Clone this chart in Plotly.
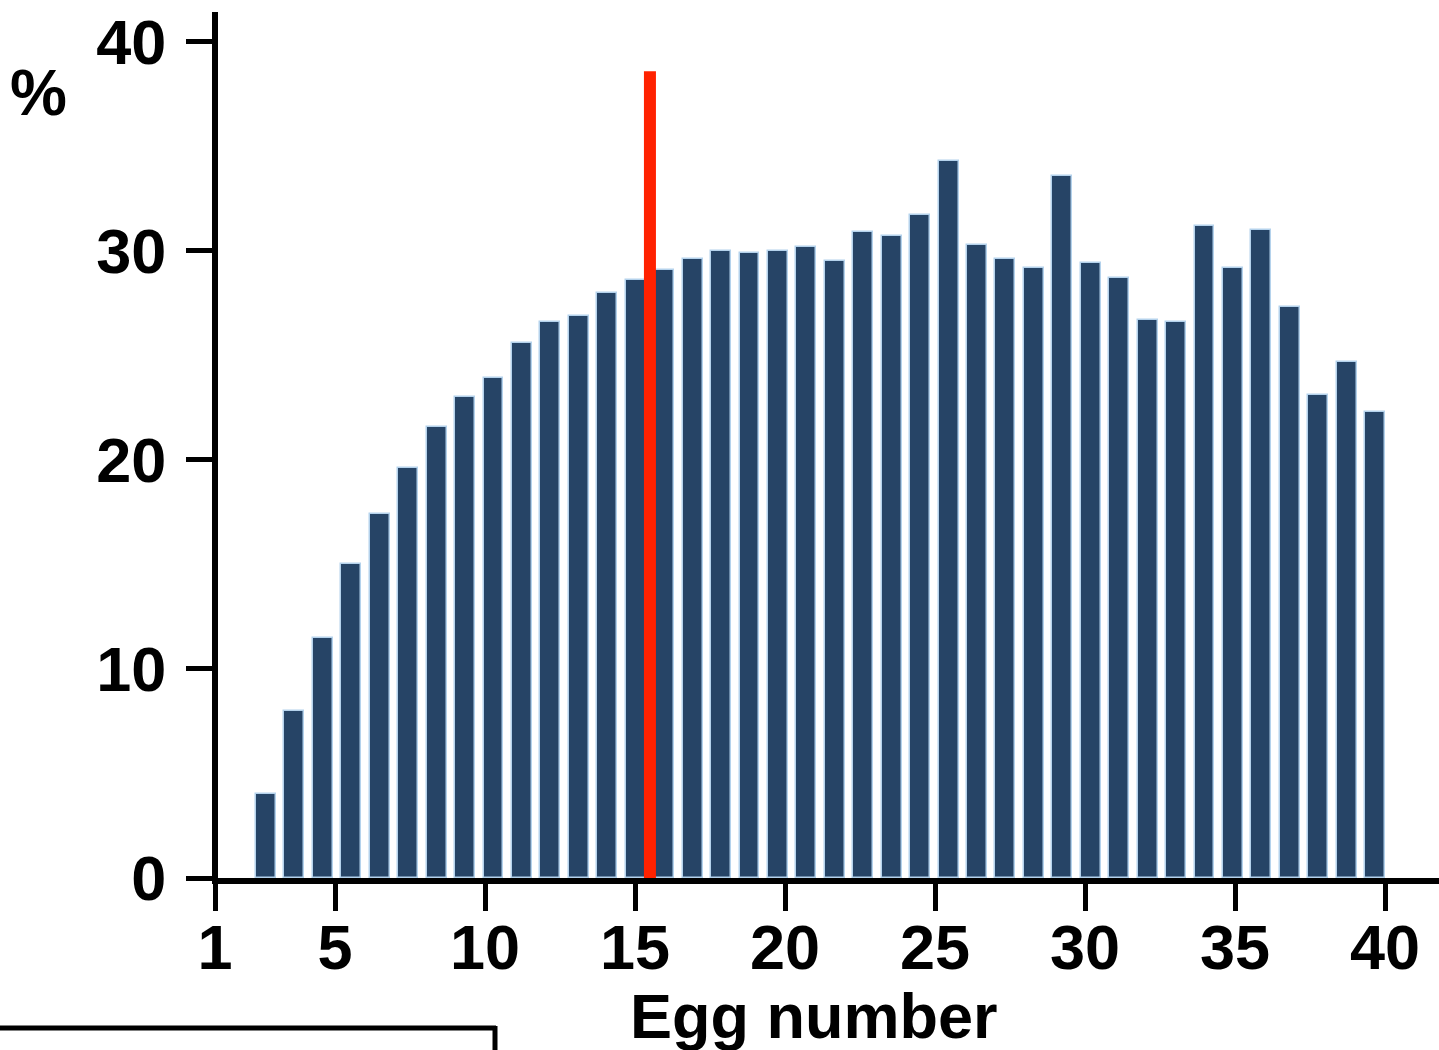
import plotly.graph_objects as go

# ---- data ----
egg_number = list(range(1, 41))
percent = [4.0, 8.0, 11.5, 15.0, 17.4, 19.6, 21.6, 23.0, 23.9, 25.6,
           26.6, 26.9, 28.0, 28.6, 29.1, 29.6, 30.0, 29.9, 30.0, 30.2,
           29.5, 30.9, 30.7, 31.7, 34.3, 30.3, 29.6, 29.2, 33.6, 29.4,
           28.7, 26.7, 26.6, 31.2, 29.2, 31.0, 27.3, 23.1, 24.7, 22.3]
x_ticks = [1, 5, 10, 15, 20, 25, 30, 35, 40]
y_ticks = [0, 10, 20, 30, 40]
cutoff_egg = 14.5      # red marker between egg 14 and 15
cutoff_top = 38.6

W, H = 1439, 1050
FONT = "Liberation Sans"

fig = go.Figure()
# invisible helper trace so the labelled x axis is instantiated
fig.add_trace(go.Scatter(
    x=x_ticks, y=[0] * len(x_ticks), xaxis="x", yaxis="y",
    mode="markers", marker=dict(opacity=0, size=1),
    hoverinfo="skip", showlegend=False,
))
fig.add_trace(go.Bar(
    x=egg_number, y=percent, xaxis="x2", yaxis="y",
    width=0.70,
    marker=dict(color="#264466", line=dict(color="#b4d2ec", width=1.5)),
    showlegend=False,
))

x_dom0 = 212 / W
fig.update_layout(
    width=W, height=H,
    margin=dict(l=0, r=0, t=0, b=0, autoexpand=False),
    paper_bgcolor="white", plot_bgcolor="white",
    bargap=0,
    xaxis=dict(
        domain=[x_dom0, 1], range=[0.9, 41.8],
        anchor="y", automargin=False,
        tickmode="array", tickvals=x_ticks, ticktext=[str(v) for v in x_ticks],
        showline=True, linecolor="black", linewidth=6,
        ticks="outside", ticklen=27, tickwidth=5, tickcolor="black",
        showgrid=False, zeroline=False,
        tickfont=dict(family=FONT, size=63, color="black", weight="bold"),
        ticklabelstandoff=-18,
    ),
    xaxis2=dict(
        overlaying="x", anchor="y", domain=[x_dom0, 1],
        range=[-0.8987, 42.245],
        visible=False, showgrid=False, zeroline=False,
    ),
    yaxis=dict(
        domain=[(H - 878) / H, (H - 12) / H], range=[0, 41.43],
        anchor="free", position=215 / W, automargin=False,
        tickmode="array", tickvals=y_ticks, ticktext=[str(v) for v in y_ticks],
        showline=True, linecolor="black", linewidth=6,
        ticks="outside", ticklen=26, tickwidth=5, tickcolor="black",
        showgrid=False, zeroline=False,
        tickfont=dict(family=FONT, size=63, color="black", weight="bold"),
        ticklabelstandoff=7,
    ),
)

# red cut-off line
fig.add_shape(type="line", xref="x2", yref="y",
              x0=cutoff_egg, x1=cutoff_egg, y0=0, y1=cutoff_top,
              line=dict(color="#ff2200", width=12), layer="above")

# fragment of neighbouring panel frame (bottom-left)
fig.add_shape(type="line", xref="paper", yref="paper",
              x0=0, x1=496 / W, y0=1 - 1028 / H, y1=1 - 1028 / H,
              line=dict(color="black", width=5))
fig.add_shape(type="line", xref="paper", yref="paper",
              x0=495 / W, x1=495 / W, y0=1 - 1026 / H, y1=0,
              line=dict(color="black", width=5))

# axis titles
fig.add_annotation(text="%", xref="paper", yref="paper",
                   x=38 / W, y=1 - 93 / H, xanchor="center", yanchor="middle",
                   showarrow=False,
                   font=dict(family=FONT, size=64, color="black", weight="bold"))
fig.add_annotation(text="Egg number", xref="paper", yref="paper",
                   x=814 / W, y=1 - 1016 / H, xanchor="center", yanchor="middle",
                   showarrow=False,
                   font=dict(family=FONT, size=63, color="black", weight="bold"))

fig.write_html("out.html")
